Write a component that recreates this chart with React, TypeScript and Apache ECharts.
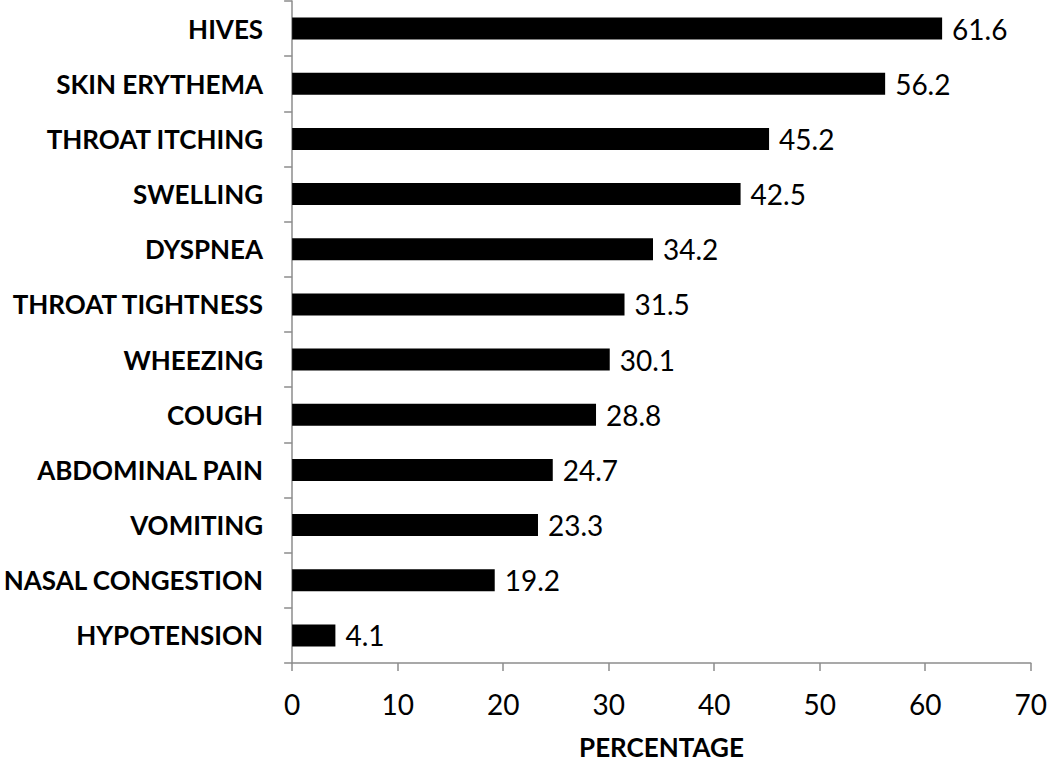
import React, { useEffect, useRef } from "react";
import * as echarts from "echarts";

const categories = [
  "HIVES",
  "SKIN ERYTHEMA",
  "THROAT ITCHING",
  "SWELLING",
  "DYSPNEA",
  "THROAT TIGHTNESS",
  "WHEEZING",
  "COUGH",
  "ABDOMINAL PAIN",
  "VOMITING",
  "NASAL CONGESTION",
  "HYPOTENSION",
];
const values = [61.6, 56.2, 45.2, 42.5, 34.2, 31.5, 30.1, 28.8, 24.7, 23.3, 19.2, 4.1];
const xAxisTitle = "PERCENTAGE";

const FONT = "Lato, 'Open Sans', sans-serif";

export default function App() {
  const ref = useRef<HTMLDivElement>(null);
  useEffect(() => {
    if (!ref.current) return;
    const chart = echarts.init(ref.current, null, { renderer: "svg" });
    chart.setOption({
      animation: false,
      grid: { left: 284, right: 14, top: 1, bottom: 94, containLabel: false },
      xAxis: {
        type: "value",
        min: 0,
        max: 70,
        interval: 10,
        name: xAxisTitle,
        nameLocation: "middle",
        nameGap: 71,
        nameTextStyle: { fontFamily: FONT, fontSize: 26, fontWeight: "bold", color: "#000" },
        axisLine: { show: true, lineStyle: { color: "#8c8c8c", width: 1.5 } },
        axisTick: { show: true, length: 8, lineStyle: { color: "#8c8c8c", width: 1.5 } },
        axisLabel: { fontFamily: FONT, fontSize: 28, color: "#000", margin: 27 },
        splitLine: { show: false },
      },
      yAxis: {
        type: "category",
        data: categories.slice().reverse(),
        axisLine: { show: true, lineStyle: { color: "#8c8c8c", width: 1.5 } },
        axisTick: { show: true, length: 8, lineStyle: { color: "#8c8c8c", width: 1.5 } },
        axisLabel: { fontFamily: FONT, fontSize: 26, fontWeight: "bold", color: "#000", margin: 29 },
      },
      series: [
        {
          type: "bar",
          data: values.slice().reverse(),
          barWidth: 22,
          itemStyle: { color: "#000" },
          label: {
            show: true,
            position: "right",
            distance: 10,
            fontFamily: FONT,
            fontSize: 28,
            color: "#000",
            formatter: (p: any) => p.value.toFixed(1),
          },
        },
      ],
    });
    return () => chart.dispose();
  }, []);
  return <div ref={ref} style={{ position: "absolute", left: 0, top: 0, width: 1050, height: 765 }} />;
}
